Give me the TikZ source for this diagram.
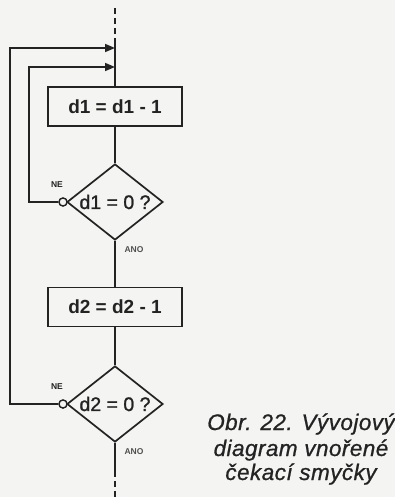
\documentclass[tikz,border=0pt]{standalone}
\usepackage{fontspec}
\setmainfont{Liberation Sans}
\usetikzlibrary{shapes.geometric,arrows.meta}
\definecolor{bg}{RGB}{244,244,242}
\definecolor{ink}{RGB}{35,35,35}
\definecolor{inkg}{RGB}{80,80,80}
\begin{document}
\begin{tikzpicture}[x=1pt,y=-1pt,line width=1.5pt,draw=ink,
  proc/.style={draw=ink,line width=1.9pt,minimum width=134,minimum height=39,inner sep=0pt,
    font=\fontsize{19}{19}\selectfont\bfseries,text=ink},
  decide/.style={draw=ink,line width=1.7pt,diamond,aspect=1.26,minimum width=96,minimum height=76,inner sep=0pt,
    font=\fontsize{19.5}{19.5}\selectfont\addfontfeature{FakeBold=1.2},text=ink},
  port/.style={circle,draw=ink,line width=1.3pt,fill=bg,minimum size=8,inner sep=0pt},
  lab/.style={font=\fontsize{8.5}{8.5}\selectfont\bfseries,inner sep=0pt,text=ink},
  labg/.style={font=\fontsize{8.5}{8.5}\selectfont\bfseries,inner sep=0pt,text=inkg},
  captxt/.style={font=\fontsize{22.5}{22.5}\selectfont\itshape\addfontfeature{LetterSpace=2,FakeBold=0.8},anchor=base,inner sep=0pt,text=ink},
  arr/.style={-{Triangle[length=10pt,width=8pt]}},
  dsh/.style={dash pattern=on 6pt off 4pt}]
\fill[bg] (0,0) rectangle (395,497);
\useasboundingbox (0,0) rectangle (395,497);
% nodes
\node[proc] (b1) at (115,106.5) {d1 = d1 - 1};
\node[decide] (d1) at (115,202) {d1 = 0 ?};
\node[proc] (b2) at (115,307) {d2 = d2 - 1};
\node[decide] (d2) at (115,404) {d2 = 0 ?};
% coordinates
\coordinate (top) at (115,8);
\coordinate (topj) at (115,42);
\coordinate (m1) at (115,48);
\coordinate (m2) at (115,67);
\coordinate (l1) at (10,48);
\coordinate (l2) at (29,67);
\coordinate (botj) at (115,471);
\coordinate (bot) at (115,497);
% main flow
\draw[dsh] (top) -- (topj);
\draw (topj) -- (b1.north);
\draw (b1.south) -- (d1.north);
\draw (d1.south) -- (b2.north);
\draw (b2.south) -- (d2.north);
\draw (d2.south) -- (botj);
\draw[dsh] (botj) -- (bot);
% loops
\node[port] (n1) at (63,202) {};
\node[port] (n2) at (63,404) {};
\draw[arr] (n1.west) -| (l2) -- (m2);
\draw[arr] (n2.west) -| (l1) -- (m1);
\node[port] at (63,202) {};
\node[port] at (63,404) {};
% labels
\node[lab] (ne1) at (57,185) {NE};
\node[labg] (ano1) at (134,250) {ANO};
\node[lab] (ne2) at (57,387) {NE};
\node[labg] (ano2) at (134,452) {ANO};
% caption
\node[captxt] (c1) at (301,430) {Obr. 22. Vývojový};
\node[captxt] (c2) at (301,456) {diagram vnořené};
\node[captxt] (c3) at (301,480) {čekací smyčky};
\end{tikzpicture}
\end{document}
